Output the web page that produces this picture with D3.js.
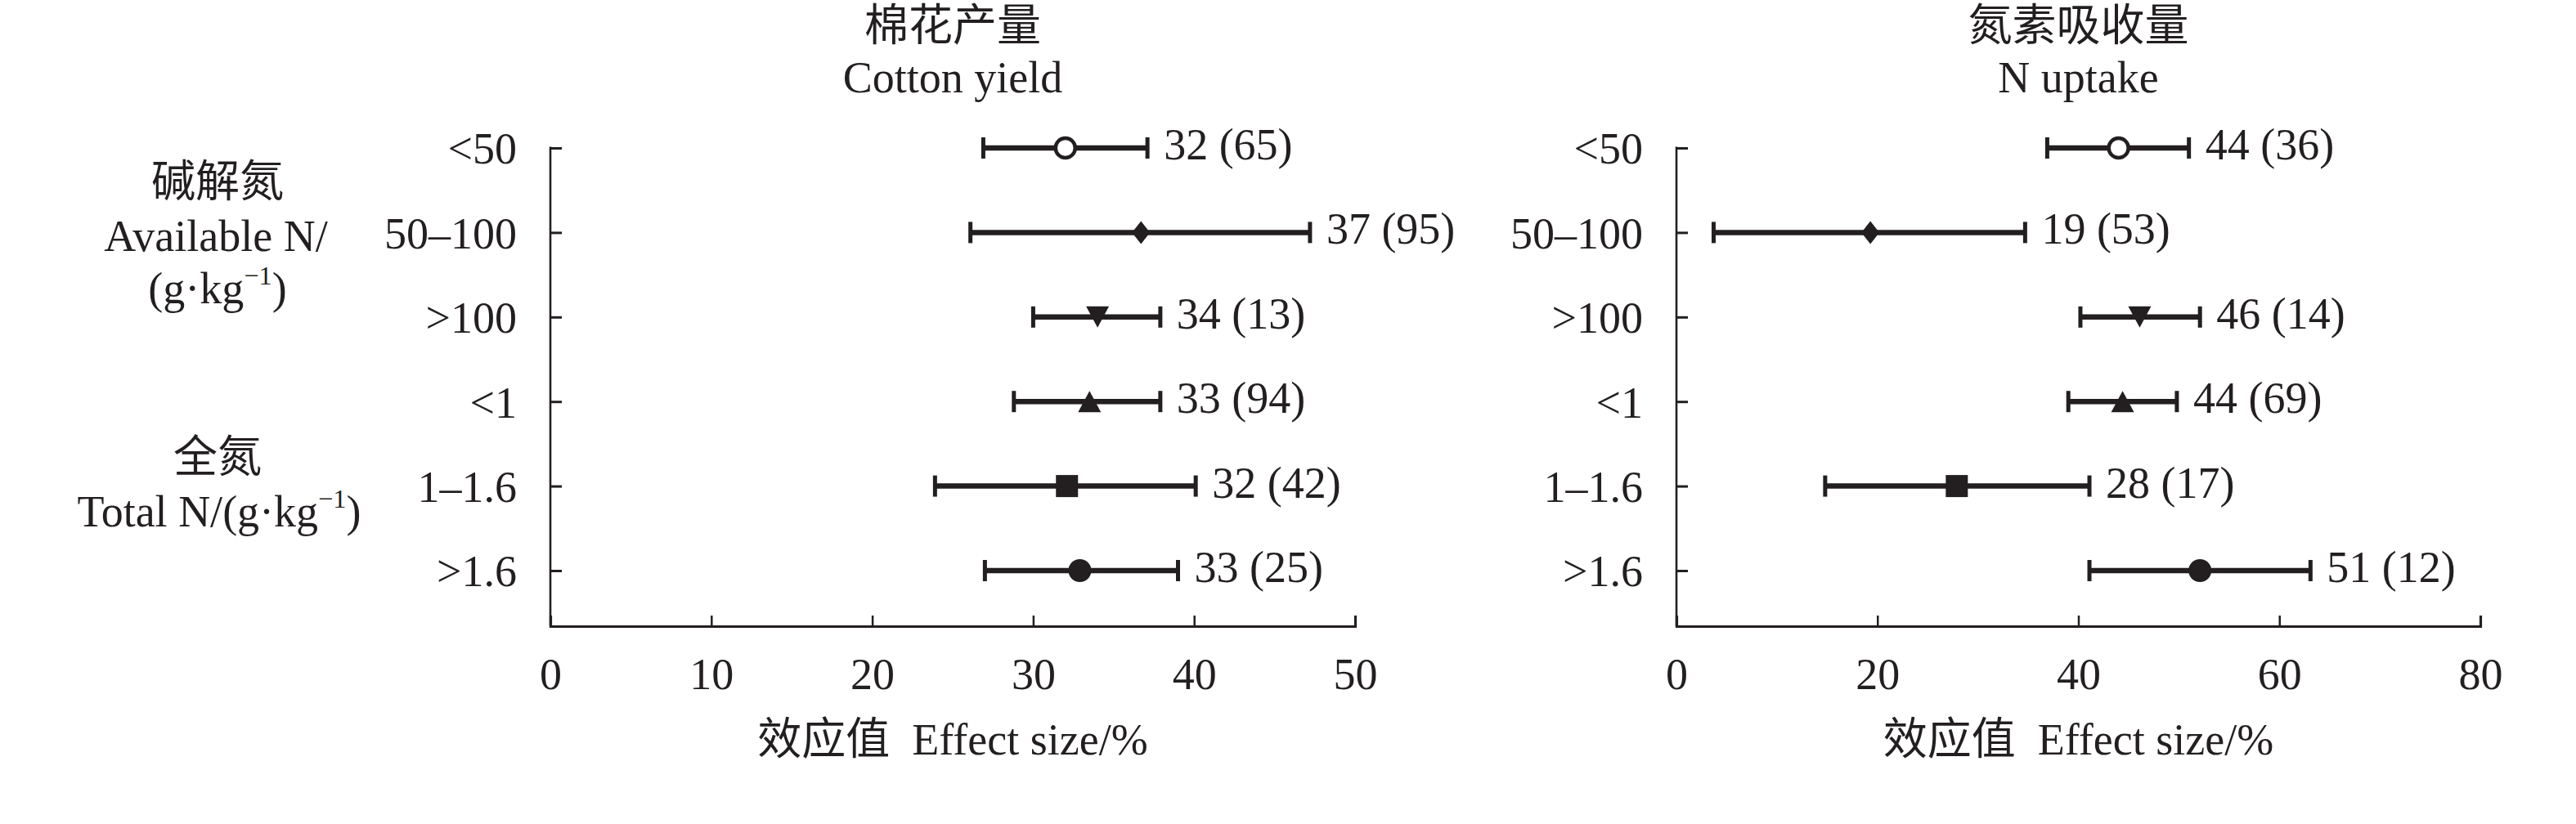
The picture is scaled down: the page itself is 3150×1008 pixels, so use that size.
<!DOCTYPE html>
<html><head><meta charset="utf-8">
<script src="https://cdn.jsdelivr.net/npm/d3@7"></script>
<style>
body{margin:0;background:#fff}
svg{display:block;background:#fff}
text{font-family:'Liberation Serif','Times New Roman','Noto Sans CJK SC',serif;fill:#231f20}
</style>
</head><body>
<svg id="c" width="3150" height="1008"></svg>
<script>
// ---- data ----
const categories = ["<50", "50–100", ">100", "<1", "1–1.6", ">1.6"];
const markerShapes = ["circleOpen", "diamond", "triDown", "triUp", "square", "circle"];

const yieldMean  = [32.0, 36.7, 34.0, 33.5, 32.1, 32.9];
const yieldLow   = [26.9, 26.1, 30.0, 28.8, 23.9, 27.0];
const yieldHigh  = [37.1, 47.2, 37.9, 37.9, 40.1, 39.0];
const yieldLabels = ["32 (65)", "37 (95)", "34 (13)", "33 (94)", "32 (42)", "33 (25)"];

const uptakeMean  = [44.0, 19.3, 46.1, 44.4, 27.9, 52.1];
const uptakeLow   = [36.9, 3.7, 40.2, 39.0, 14.8, 41.1];
const uptakeHigh  = [51.0, 34.7, 52.1, 49.8, 41.1, 63.1];
const uptakeLabels = ["44 (36)", "19 (53)", "46 (14)", "44 (69)", "28 (17)", "51 (12)"];

const yieldTicks = [0, 10, 20, 30, 40, 50];
const uptakeTicks = [0, 20, 40, 60, 80];

const yieldTitle = ["棉花产量", "Cotton yield"];
const uptakeTitle = ["氮素吸收量", "N uptake"];
const xAxisTitle = "效应值  Effect size/%";

// ---- drawing ----
const ink = "#231f20";
const fs = 54;
const svg = d3.select("#c");
const axisY = 766;
const y = d3.scalePoint().domain(categories).range([181, 698]);

const shapePaths = {
  diamond: "M0,-14L11,0L0,14L-11,0Z",
  triDown: "M-14,-13L14,-13L0,13Z",
  triUp: "M0,-13L14,13L-14,13Z",
  square: "M-13.5,-13.5h27v27h-27Z"
};

function drawPanel(o) {
  const x = d3.scaleLinear().domain(o.domain).range(o.range);
  const cx = (o.range[0] + o.range[1]) / 2;
  const g = svg.append("g");

  // titles
  g.append("text").attr("x", cx).attr("y", 50).attr("text-anchor", "middle")
    .attr("font-size", fs).text(o.title[0]);
  g.append("text").attr("x", cx).attr("y", 113).attr("text-anchor", "middle")
    .attr("font-size", fs).text(o.title[1]);

  // x axis
  const gx = g.append("g").attr("transform", `translate(0,${axisY})`)
    .call(d3.axisBottom(x).tickValues(o.ticks).tickSize(-13).tickSizeOuter(-13)
      .tickPadding(39).tickFormat(d3.format("d")));
  gx.attr("font-size", fs).attr("font-family", null);
  gx.select(".domain").attr("stroke", ink).attr("stroke-width", 3.2);
  gx.selectAll(".tick line").attr("stroke", ink).attr("stroke-width", 2.5);
  gx.selectAll(".tick text").attr("fill", ink);

  // y axis
  const gy = g.append("g").attr("transform", `translate(${o.range[0]},0)`)
    .call(d3.axisLeft(y).tickSize(-14).tickSizeOuter(0).tickPadding(41));
  gy.attr("font-size", fs).attr("font-family", null);
  gy.select(".domain").remove();
  gy.selectAll(".tick line").attr("stroke", ink).attr("stroke-width", 3);
  gy.selectAll(".tick text").attr("fill", ink).attr("dy", "0.35em");
  g.append("line").attr("x1", o.range[0]).attr("x2", o.range[0])
    .attr("y1", y(categories[0]) - 1.5).attr("y2", axisY)
    .attr("stroke", ink).attr("stroke-width", 2.6);

  // x title
  g.append("text").attr("x", cx).attr("y", 923).attr("text-anchor", "middle")
    .attr("font-size", fs).attr("xml:space", "preserve").style("white-space", "pre").text(xAxisTitle);

  const rows = categories.map((c, i) => ({
    c, shape: markerShapes[i], m: o.mean[i], lo: o.low[i], hi: o.high[i], lab: o.labels[i]
  }));

  const r = g.selectAll("g.row").data(rows).join("g").attr("class", "row");
  r.append("line").attr("x1", d => x(d.lo)).attr("x2", d => x(d.hi))
    .attr("y1", d => y(d.c)).attr("y2", d => y(d.c))
    .attr("stroke", ink).attr("stroke-width", 6.5);
  r.append("line").attr("x1", d => x(d.lo)).attr("x2", d => x(d.lo))
    .attr("y1", d => y(d.c) - 13).attr("y2", d => y(d.c) + 13)
    .attr("stroke", ink).attr("stroke-width", 5);
  r.append("line").attr("x1", d => x(d.hi)).attr("x2", d => x(d.hi))
    .attr("y1", d => y(d.c) - 13).attr("y2", d => y(d.c) + 13)
    .attr("stroke", ink).attr("stroke-width", 5);

  r.each(function(d) {
    const s = d3.select(this);
    const tx = x(d.m), ty = y(d.c);
    if (d.shape === "circleOpen") {
      s.append("circle").attr("cx", tx).attr("cy", ty).attr("r", 12)
        .attr("fill", "#fff").attr("stroke", ink).attr("stroke-width", 4.5);
    } else if (d.shape === "circle") {
      s.append("circle").attr("cx", tx).attr("cy", ty).attr("r", 14).attr("fill", ink);
    } else {
      s.append("path").attr("d", shapePaths[d.shape])
        .attr("transform", `translate(${tx},${ty})`).attr("fill", ink);
    }
  });

  r.append("text").attr("x", d => x(d.hi) + 20).attr("y", d => y(d.c) + 14)
    .attr("font-size", fs).text(d => d.lab);
}

drawPanel({ domain: [0, 50], range: [673, 1657], ticks: yieldTicks, title: yieldTitle,
  mean: yieldMean, low: yieldLow, high: yieldHigh, labels: yieldLabels });
drawPanel({ domain: [0, 80], range: [2050, 3033], ticks: uptakeTicks, title: uptakeTitle,
  mean: uptakeMean, low: uptakeLow, high: uptakeHigh, labels: uptakeLabels });

// group labels on left
function multiText(xc, yb, parts) {
  const t = svg.append("text").attr("x", xc).attr("y", yb).attr("text-anchor", "middle").attr("font-size", fs);
  parts.forEach(p => {
    if (p.sup) {
      t.append("tspan").attr("font-size", fs * 0.6).attr("dy", -fs * 0.42).text(p.t);
    } else if (p.after) {
      t.append("tspan").attr("dy", fs * 0.42).text(p.t);
    } else {
      t.append("tspan").text(p.t);
    }
  });
}
multiText(266, 241, [{ t: "碱解氮" }]);
multiText(264, 307, [{ t: "Available N/" }]);
multiText(266, 371, [{ t: "(g·kg" }, { t: "−1", sup: true }, { t: ")", after: true }]);
multiText(266, 578, [{ t: "全氮" }]);
multiText(268, 644, [{ t: "Total N/(g·kg" }, { t: "−1", sup: true }, { t: ")", after: true }]);
</script>
</body></html>
